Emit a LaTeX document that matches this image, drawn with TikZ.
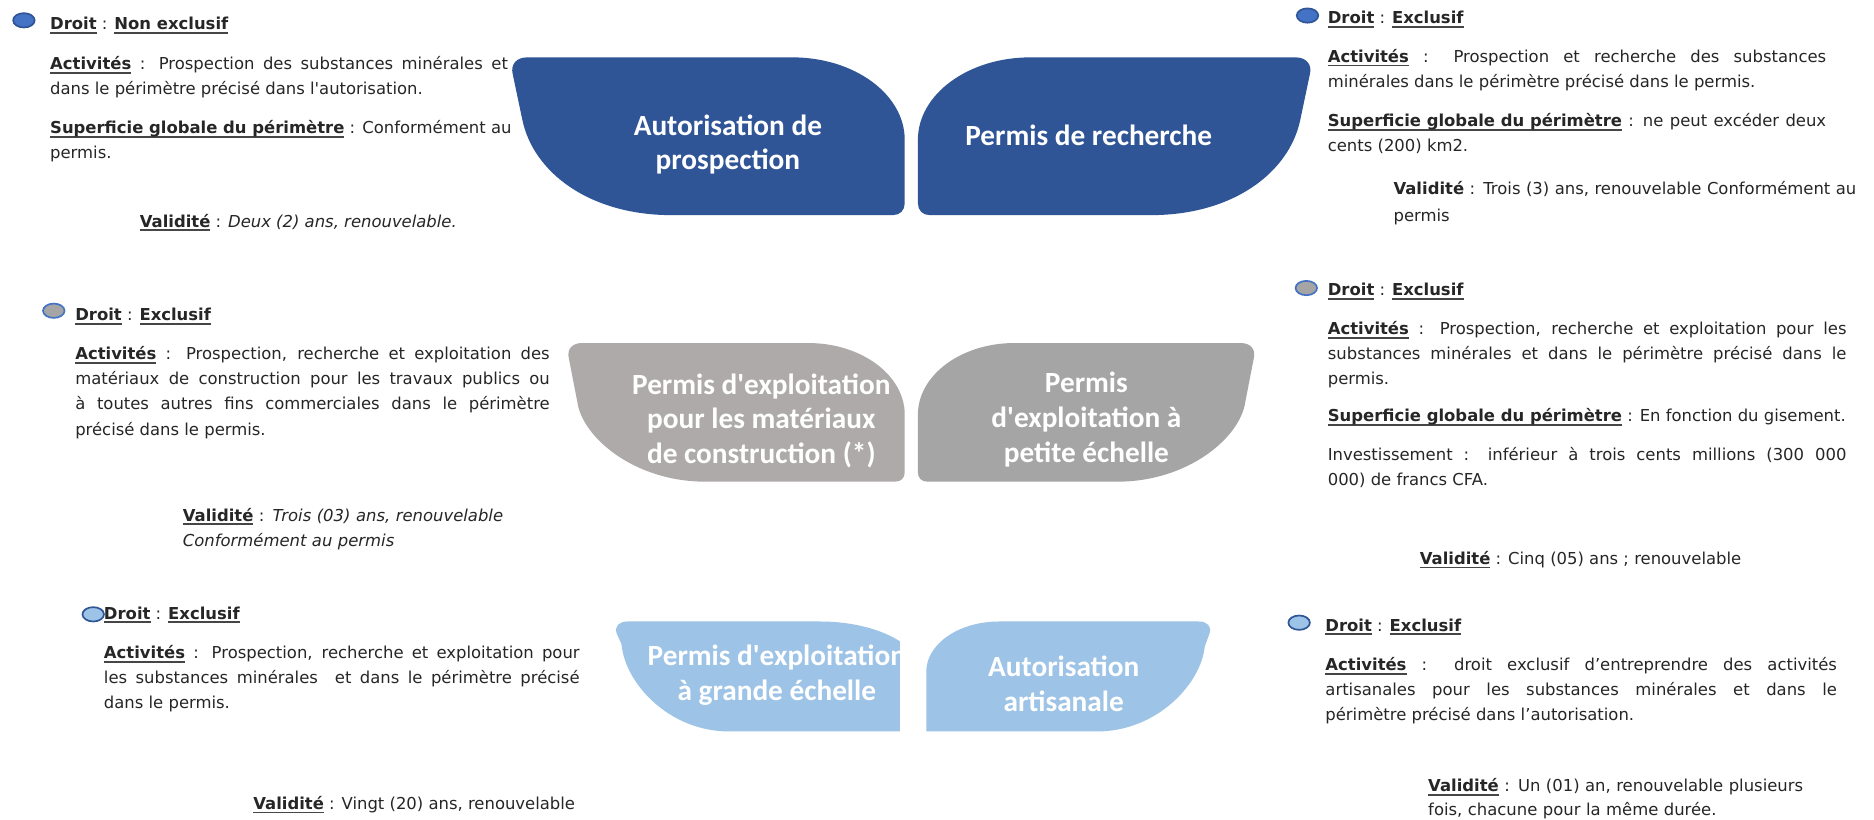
\documentclass[tikz,border=0pt]{standalone}
\usepackage{fontspec}
\setmainfont{DejaVu Sans}
\newfontfamily\bodyfont{DejaVu Sans}
\newfontfamily\labfont{Carlito}
\usetikzlibrary{shapes.geometric}
\definecolor{dkblue}{RGB}{47,85,151}
\definecolor{grayL}{RGB}{174,170,170}
\definecolor{grayR}{RGB}{165,165,165}
\definecolor{ltblue}{RGB}{157,195,230}
\definecolor{bulblue}{RGB}{68,114,196}
\definecolor{txt}{RGB}{38,38,38}
\definecolor{ulc}{RGB}{70,70,70}
\newsavebox\ulbox
\newcommand\uln[1]{\sbox\ulbox{#1}\rlap{\color{ulc}\rule[-3.6pt]{\wd\ulbox}{1.6pt}}\usebox\ulbox}
\newcommand\hdr[1]{\uln{\textbf{#1}}}
\newcommand\act{\uln{\textbf{Activités}}}
\newcommand\val{\uln{\textbf{Validité}}}
\begin{document}
\begin{tikzpicture}[x=1pt,y=-1pt,
  every node/.style={inner sep=0pt,outer sep=0pt},
  body/.style={anchor=base west,font=\bodyfont\fontsize{13.75}{21}\selectfont,text=txt},
  par/.style={body,align=justify},
  lab/.style={font=\labfont\bfseries\fontsize{24.5}{29}\selectfont,text=white,align=center},
  bul/.style={ellipse,minimum width=18pt,minimum height=12pt,line width=1.4pt}]
\useasboundingbox (0,0) rectangle (1568,686);
\fill[white] (0,0) rectangle (1568,686);

% ---------- shapes ----------
\fill[dkblue] (441,48) -- (663,48) .. controls (715,48) and (757,79) .. (757,117)
  -- (757,170) .. controls (757,176) and (753,180) .. (747,180) -- (562,180)
  .. controls (493,180) and (446,144) .. (437,100) -- (429,62)
  .. controls (427,54) and (432,48) .. (441,48) -- cycle;
\node[lab] (s1) at (609,121) {Autorisation de\\prospection};

\fill[dkblue] (1084,48) -- (862,48) .. controls (810,48) and (768,79) .. (768,117)
  -- (768,170) .. controls (768,176) and (772,180) .. (778,180) -- (963,180)
  .. controls (1032,180) and (1079,144) .. (1088,100) -- (1096,62)
  .. controls (1098,54) and (1093,48) .. (1084,48) -- cycle;
\node[lab] (s2) at (911,113) {Permis de recherche};

\fill[grayL] (487,287) -- (676,287) .. controls (721,287) and (757,314) .. (757,347)
  -- (757,395) .. controls (757,400) and (754,403) .. (749,403) -- (590,403)
  .. controls (531,403) and (487,366) .. (483,336) -- (476,300)
  .. controls (474,292) and (479,287) .. (487,287) -- cycle;
\node[lab] (s3) at (637,352) {Permis d'exploitation\\pour les matériaux\\de construction (*)};

\fill[grayR] (1038,287) -- (849,287) .. controls (804,287) and (768,314) .. (768,347)
  -- (768,395) .. controls (768,400) and (771,403) .. (776,403) -- (935,403)
  .. controls (994,403) and (1038,366) .. (1042,336) -- (1049,300)
  .. controls (1051,292) and (1046,287) .. (1038,287) -- cycle;
\node[lab] (s4) at (909,351) {Permis\\d'exploitation à\\petite échelle};

\begin{scope}
\clip (0,0) rectangle (753,686);
\fill[ltblue] (525,520) -- (686,520) .. controls (735,520) and (774,541) .. (774,568)
  -- (774,612) -- (610,612) .. controls (560,612) and (523,572) .. (520,539)
  -- (516,530) .. controls (514,524) and (518,520) .. (525,520) -- cycle;
\node[lab] (s5) at (650,565) {Permis d'exploitation\\à grande échelle};
\end{scope}

\fill[ltblue] (775,612) -- (775,562) .. controls (775,539) and (802,520) .. (836,520)
  -- (1003,520) .. controls (1010,520) and (1014,524) .. (1012,530) -- (1008,541)
  .. controls (1005,572) and (968,612) .. (918,612) -- cycle;
\node[lab] (s6) at (890,572) {Autorisation\\artisanale};

% ---------- block 1 ----------
\node[bul,fill=bulblue,draw=dkblue] (b1) at (20,17) {};
\node[body] (d1) at (42,25) {\hdr{Droit} : \hdr{Non exclusif}};
\node[par,text width=383pt] (a1) at (42,58) {\act{} : Prospection des substances minérales et\linebreak dans le périmètre précisé dans l'autorisation.};
\node[par,text width=386pt] (p1) at (42,112) {\hdr{Superficie globale du périmètre} : Conformément au\linebreak permis.};
\node[body] (v1) at (117,190) {\val{} : \textit{Deux (2) ans, renouvelable.}};

% ---------- block 2 ----------
\node[bul,fill=bulblue,draw=dkblue] (b2) at (1094,13) {};
\node[body] (d2) at (1111,20) {\hdr{Droit} : \hdr{Exclusif}};
\node[par,text width=417pt] (a2) at (1111,52) {\act{} : Prospection et recherche des substances\linebreak minérales dans le périmètre précisé dans le permis.};
\node[par,text width=417pt] (p2) at (1111,106) {\hdr{Superficie globale du périmètre} : ne peut excéder deux\linebreak cents (200) km2.};
\node[body,align=left,text width=402pt,font=\bodyfont\fontsize{13.75}{22}\selectfont] (v2) at (1166,163) {\textbf{Validité} : Trois (3) ans, renouvelable Conformément au\\permis};

% ---------- block 3 ----------
\node[bul,fill=grayR,draw=bulblue] (b3) at (45,260) {};
\node[body] (d3) at (63,268) {\hdr{Droit} : \hdr{Exclusif}};
\node[par,text width=397pt] (a3) at (63,301) {\act{} : Prospection, recherche et exploitation des\linebreak matériaux de construction pour les travaux publics ou\linebreak à toutes autres fins commerciales dans le périmètre\linebreak précisé dans le permis.};
\node[body,align=left,text width=320pt] (v3) at (153,436) {\val{} : \textit{Trois (03) ans, renouvelable}\\\textit{Conformément au permis}};

% ---------- block 4 ----------
\node[bul,fill=grayR,draw=bulblue] (b4) at (1093,241) {};
\node[body] (d4) at (1111,247) {\hdr{Droit} : \hdr{Exclusif}};
\node[par,text width=434pt] (a4) at (1111,280) {\act{} : Prospection, recherche et exploitation pour les\linebreak substances minérales et dans le périmètre précisé dans le\linebreak permis.};
\node[body] (p4) at (1111,353) {\hdr{Superficie globale du périmètre} : En fonction du gisement.};
\node[par,text width=434pt] (i4) at (1111,385) {Investissement : inférieur à trois cents millions (300 000\linebreak 000) de francs CFA.};
\node[body] (v4) at (1188,472) {\val{} : Cinq (05) ans ; renouvelable};

% ---------- block 5 ----------
\node[bul,fill=ltblue,draw=dkblue] (b5) at (78,514) {};
\node[body] (d5) at (87,518) {\hdr{Droit} : \hdr{Exclusif}};
\node[par,text width=398pt] (a5) at (87,551) {\act{} : Prospection, recherche et exploitation pour\linebreak les substances minérales\ \ et dans le périmètre précisé\linebreak dans le permis.};
\node[body] (v5) at (212,677) {\val{} : Vingt (20) ans, renouvelable};

% ---------- block 6 ----------
\node[bul,fill=ltblue,draw=dkblue] (b6) at (1087,521) {};
\node[body] (d6) at (1109,528) {\hdr{Droit} : \hdr{Exclusif}};
\node[par,text width=428pt] (a6) at (1109,561) {\act{} : droit exclusif d’entreprendre des activités\linebreak artisanales pour les substances minérales et dans le\linebreak périmètre précisé dans l’autorisation.};
\node[body,align=left,text width=340pt,font=\bodyfont\fontsize{13.75}{20}\selectfont] (v6) at (1195,662) {\val{} : Un (01) an, renouvelable plusieurs\\fois, chacune pour la même durée.};
\end{tikzpicture}
\end{document}
